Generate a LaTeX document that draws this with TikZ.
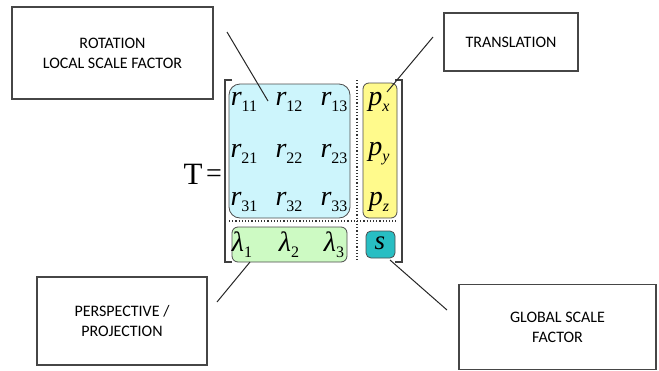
\documentclass[tikz,border=0pt]{standalone}
\usepackage{fontspec}
\setmainfont{Liberation Serif}
\newfontfamily\lblfont{Carlito}
\definecolor{rfill}{RGB}{205,245,252}
\definecolor{pfill}{RGB}{255,250,140}
\definecolor{lfill}{RGB}{205,250,195}
\definecolor{sfill}{RGB}{40,190,195}
\newcommand{\ent}[2]{{\fontsize{28}{28}\selectfont\itshape #1}{\fontsize{16}{16}\selectfont\raisebox{-6pt}{#2}}}
\begin{document}
\begin{tikzpicture}[x=1pt,y=-1pt,
  lbl/.style={draw=gray!55!black, line width=1.3pt, fill=white, inner sep=0pt,
    font=\lblfont\fontsize{16}{20}\selectfont, align=center},
  blk/.style={draw=gray!60!black, line width=0.8pt, inner sep=0pt},
  ptr/.style={draw=gray!30!black, line width=1pt},
  brk/.style={draw=gray!50!black, line width=1.1pt},
  sep/.style={draw=gray!40!black, line width=1.2pt, dotted},
  entry/.style={inner sep=0pt}]
\useasboundingbox (0,0) rectangle (659,370);
% label boxes
\node[lbl, minimum width=201, minimum height=92] (rotlbl) at (112.5,53) {ROTATION\\LOCAL SCALE FACTOR};
\node[lbl, minimum width=134, minimum height=58] (trlbl) at (511,42) {TRANSLATION};
\node[lbl, minimum width=170, minimum height=88] (perlbl) at (122,321) {PERSPECTIVE /\\PROJECTION};
\node[lbl, minimum width=197, minimum height=85] (glblbl) at (557.5,327) {GLOBAL SCALE\\FACTOR};
% coloured blocks
\node[blk, fill=rfill, rounded corners=11pt, minimum width=121, minimum height=134] (rblk) at (289.5,151) {};
\node[blk, fill=pfill, rounded corners=6pt, minimum width=34, minimum height=135] (pblk) at (380,150.5) {};
\node[blk, fill=lfill, rounded corners=6pt, minimum width=115, minimum height=35] (lblk) at (289.5,244.5) {};
\node[blk, fill=sfill, rounded corners=5pt, minimum width=29, minimum height=27] (sblk) at (380.5,244.5) {};
% brackets
\coordinate (bl1) at (232,80); \coordinate (bl2) at (225,80);
\coordinate (bl3) at (225,262); \coordinate (bl4) at (232,262);
\coordinate (br1) at (395,80); \coordinate (br2) at (402,80);
\coordinate (br3) at (402,262); \coordinate (br4) at (395,262);
\draw[brk] (bl1) -- (bl2) -- (bl3) -- (bl4);
\draw[brk] (br1) -- (br2) -- (br3) -- (br4);
% dotted separators
\coordinate (v1) at (357,80); \coordinate (v2) at (357,262);
\coordinate (h1) at (229,221); \coordinate (h2) at (396,221);
\draw[sep] (v1) -- (v2);
\draw[sep] (h1) -- (h2);
% T =
\node[entry, font=\fontsize{31}{31}\selectfont] (T) at (193,174) {T};
\node[entry, font=\fontsize{28}{28}\selectfont] (eq) at (214,176) {=};
% entries
\node[entry] (r11) at (244,102) {\ent{r}{11}};
\node[entry] (r12) at (289,102) {\ent{r}{12}};
\node[entry] (r13) at (334,102) {\ent{r}{13}};
\node[entry] (r21) at (244,154) {\ent{r}{21}};
\node[entry] (r22) at (289,154) {\ent{r}{22}};
\node[entry] (r23) at (334,154) {\ent{r}{23}};
\node[entry] (r31) at (244,202) {\ent{r}{31}};
\node[entry] (r32) at (289,202) {\ent{r}{32}};
\node[entry] (r33) at (334,202) {\ent{r}{33}};
\node[entry] (px) at (379,102) {\ent{p}{\itshape x}};
\node[entry] (py) at (379,154) {\ent{p}{\itshape y}};
\node[entry] (pz) at (379,202) {\ent{p}{\itshape z}};
\node[entry] (l1) at (242,245) {\ent{λ}{1}};
\node[entry] (l2) at (289,245) {\ent{λ}{2}};
\node[entry] (l3) at (334,245) {\ent{λ}{3}};
\node[entry, font=\fontsize{27}{27}\selectfont\itshape] (s) at (380,243) {s};
% pointers
\coordinate (c1a) at (227,32); \coordinate (c1b) at (268,101);
\coordinate (c2a) at (433,37); \coordinate (c2b) at (387,92);
\coordinate (c3a) at (217,302); \coordinate (c3b) at (250,262);
\coordinate (c4a) at (390,260); \coordinate (c4b) at (447,310);
\draw[ptr] (c1a) -- (c1b);
\draw[ptr] (c2a) -- (c2b);
\draw[ptr] (c3a) -- (c3b);
\draw[ptr] (c4a) -- (c4b);
\end{tikzpicture}
\end{document}
